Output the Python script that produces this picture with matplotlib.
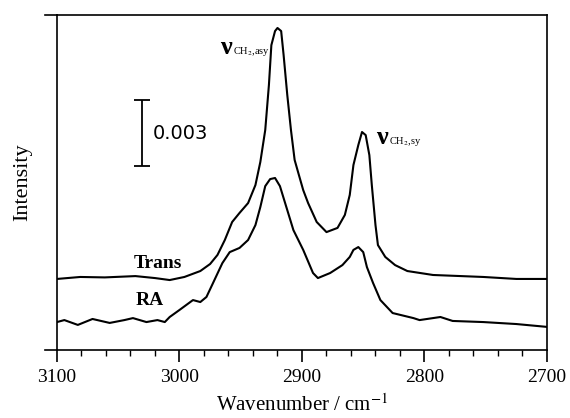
import numpy as np
import matplotlib
matplotlib.use("Agg")
import matplotlib.pyplot as plt
from matplotlib.ticker import MultipleLocator

plt.rcParams['font.family'] = ['Liberation Serif', 'DejaVu Serif']
plt.rcParams['mathtext.fontset'] = 'stix'

# spectra, intensity in units of 1e-3
wn_trans = [3100, 3081, 3061, 3036, 3020, 3008, 2996, 2983, 2975, 2969,
            2963, 2957, 2951, 2944, 2938, 2934, 2930, 2927, 2925, 2922,
            2920, 2917, 2915, 2912, 2909, 2906, 2903, 2899, 2895, 2888,
            2880, 2871, 2865, 2861, 2858, 2854, 2851, 2848, 2845, 2843,
            2840, 2838, 2832, 2824, 2814, 2793, 2752, 2725, 2700]
int_trans = [3.23, 3.32, 3.30, 3.36, 3.27, 3.18, 3.32, 3.59, 3.91, 4.32,
             5.00, 5.82, 6.23, 6.68, 7.50, 8.55, 10.00, 12.05, 13.86, 14.50,
             14.64, 14.50, 13.41, 11.59, 10.00, 8.64, 8.05, 7.27, 6.68, 5.82,
             5.36, 5.55, 6.14, 7.05, 8.41, 9.32, 9.91, 9.77, 8.86, 7.50,
             5.68, 4.77, 4.23, 3.86, 3.59, 3.41, 3.32, 3.23, 3.23]

wn_ra = [3100, 3094, 3083, 3071, 3057, 3045, 3038, 3027, 3018, 3012,
         3008, 3000, 2989, 2983, 2978, 2973, 2965, 2959, 2951, 2944,
         2938, 2934, 2930, 2926, 2922, 2918, 2912, 2907, 2899, 2891,
         2887, 2877, 2867, 2861, 2858, 2854, 2850, 2847, 2842, 2836,
         2826, 2809, 2804, 2787, 2777, 2752, 2725, 2700]
int_ra = [1.27, 1.36, 1.14, 1.41, 1.23, 1.36, 1.45, 1.27, 1.36, 1.27,
          1.50, 1.82, 2.27, 2.18, 2.41, 3.00, 3.95, 4.45, 4.64, 5.00,
          5.68, 6.50, 7.45, 7.77, 7.82, 7.45, 6.36, 5.45, 4.55, 3.50,
          3.27, 3.50, 3.86, 4.23, 4.55, 4.68, 4.45, 3.77, 3.05, 2.27,
          1.68, 1.45, 1.36, 1.50, 1.32, 1.27, 1.18, 1.05]

fig = plt.figure(figsize=(5.7, 4.18), dpi=100)
ax = fig.add_axes([0.1, 0.1627, 0.8596, 0.8014])

ax.plot(wn_trans, int_trans, 'k', lw=1.5, solid_joinstyle='round')
ax.plot(wn_ra, int_ra, 'k', lw=1.5, solid_joinstyle='round')

ax.set_xlim(3100, 2700)
ax.set_ylim(0, 15.23)

# scale bar 0.003
ax.errorbar([3031], [9.86], yerr=[1.5], fmt='none', ecolor='k',
            elinewidth=1.3, capsize=6, capthick=1.3)
ax.text(3022, 9.86, '0.003', fontsize=14, va='center', ha='left',
        family=['DejaVu Sans'])

ax.text(3018, 3.95, 'Trans', fontsize=14, fontweight='bold', ha='center', va='center')
ax.text(3024, 2.25, 'RA', fontsize=14, fontweight='bold', ha='center', va='center')

ax.text(2962, 13.73, 'ν', fontsize=19, fontweight='bold', ha='center', va='center')
ax.text(2956, 13.55, 'CH$_2$,asy', fontsize=7.5, ha='left', va='center')
ax.text(2834.7, 9.68, 'ν', fontsize=19, fontweight='bold', ha='center', va='center')
ax.text(2829, 9.5, 'CH$_2$,sy', fontsize=7.5, ha='left', va='center')

ax.xaxis.set_major_locator(MultipleLocator(100))
ax.xaxis.set_minor_locator(MultipleLocator(20))
ax.tick_params(axis='x', which='major', direction='out', length=8.5, width=1.2,
               labelsize=14, pad=5)
ax.tick_params(axis='x', which='minor', direction='out', length=4, width=1.0)
ax.tick_params(axis='y', left=False, labelleft=False)
for s in ax.spines.values():
    s.set_linewidth(1.2)

# little overhang of the top and bottom frame lines on the left
for yy in (0, 1):
    ax.plot([-0.025, 0], [yy, yy], 'k', lw=1.2, transform=ax.transAxes, clip_on=False)

ax.set_xlabel('Wavenumber / cm$^{-1}$', fontsize=15, labelpad=6)
ax.set_ylabel('Intensity', fontsize=16, labelpad=18)

fig.savefig('out.png', dpi=100)
